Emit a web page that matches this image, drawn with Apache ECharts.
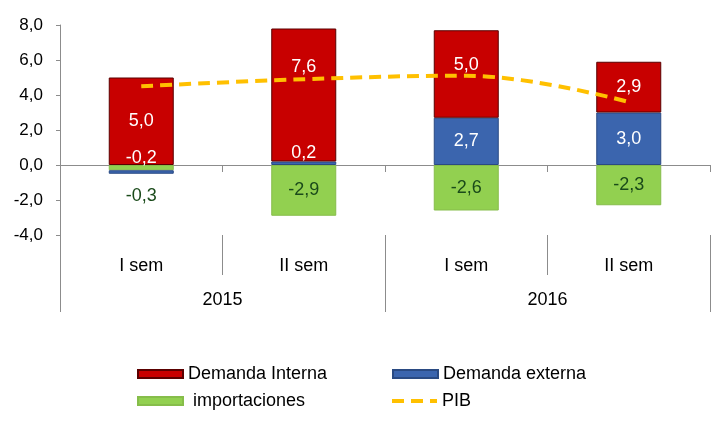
<!DOCTYPE html>
<html>
<head>
<meta charset="utf-8">
<script src="https://cdn.jsdelivr.net/npm/echarts@6/dist/echarts.min.js"></script>
<style>
  html, body { margin: 0; padding: 0; background: #fff; }
  #chart { width: 714px; height: 424px; }
</style>
</head>
<body>
<div id="chart"></div>
<script>
// datos
var semestres = ['I sem', 'II sem', 'I sem', 'II sem']
var anios = ['2015', '2016']
var demandaInterna = [5.0, 7.6, 5.0, 2.9]
var demandaExterna = [-0.2, 0.2, 2.7, 3.0]
var importaciones = [-0.3, -2.9, -2.6, -2.3]
var pib = [4.5, 4.9, 5.1, 3.6]
var yTicks = { min: -4, max: 8, step: 2 }

var font = 'Liberation Sans, Arial, sans-serif'
var gris = '#8c8c8c'

function fmt(v) {
  return Number(v).toFixed(1).replace('.', ',')
}

// desplazamiento vertical de las etiquetas (como en el original)
var dyInterna = [0, -28, -9, 0]
var dyExterna = [-14, -10, 0, 0]
var dyImport = [28, 0, 0, 0]

function items(arr, dy) {
  return arr.map(function (v, i) {
    return { value: v, label: { offset: [0, dy[i]] } }
  })
}

// una leyenda por elemento para fijar la posicion
function leyenda(name, left, top, icon, fmtName) {
  return {
    left: left,
    top: top,
    padding: 0,
    itemWidth: 45,
    itemHeight: icon === 'rect' ? 8 : 4,
    icon: icon,
    formatter: fmtName || '{name}',
    textStyle: { fontFamily: font, fontSize: 18, color: '#000' },
    data: [name]
  }
}

var chart = echarts.init(document.getElementById('chart'))

chart.setOption({
  animation: false,
  grid: { left: 60, right: 4, top: 25, bottom: 189 },
  legend: [
    leyenda('Demanda Interna', 137, 365, 'rect'),
    leyenda('Demanda externa', 392, 365, 'rect'),
    leyenda('importaciones', 137, 392, 'rect', ' {name}'),
    leyenda('PIB', 392, 392, 'path://M0,0h12v4h-12z M19,0h12v4h-12z M38,0h7v4h-7z')
  ],
  xAxis: [{
    type: 'category',
    data: semestres,
    position: 'bottom',
    axisLine: { onZero: true, lineStyle: { color: gris, width: 1 } },
    axisTick: { show: true, alignWithLabel: false, length: 7, lineStyle: { color: gris } },
    axisLabel: { show: false }
  }, {
    type: 'category',
    data: semestres,
    position: 'bottom',
    offset: 0,
    axisLine: { show: false, onZero: false },
    axisTick: { show: true, length: 40, lineStyle: { color: gris } },
    axisLabel: { margin: 22, fontFamily: font, fontSize: 18, color: '#000' }
  }, {
    type: 'category',
    data: anios,
    position: 'bottom',
    offset: 0,
    axisLine: { show: false, onZero: false },
    axisTick: { show: true, length: 77, lineStyle: { color: gris } },
    axisLabel: { margin: 56, fontFamily: font, fontSize: 18, color: '#000' }
  }],
  yAxis: {
    type: 'value',
    min: yTicks.min,
    max: yTicks.max,
    interval: yTicks.step,
    axisLine: { show: true, lineStyle: { color: gris } },
    axisTick: { show: true, length: 4, lineStyle: { color: gris } },
    splitLine: { show: false },
    axisLabel: {
      margin: 17,
      fontFamily: font,
      fontSize: 17,
      color: '#000',
      formatter: fmt
    }
  },
  series: [{
    name: 'importaciones',
    type: 'bar',
    stack: 'total',
    barWidth: 65,
    itemStyle: { color: '#92D050', borderColor: '#86bd4a', borderWidth: 1 },
    label: {
      show: true,
      position: 'inside',
      formatter: function (p) { return fmt(p.value) },
      fontFamily: font,
      fontSize: 18,
      color: '#1a4a1a'
    },
    data: items(importaciones, dyImport)
  }, {
    name: 'Demanda externa',
    type: 'bar',
    stack: 'total',
    barWidth: 65,
    itemStyle: { color: '#3B65AE', borderColor: '#2a4a82', borderWidth: 1 },
    label: {
      show: true,
      position: 'inside',
      formatter: function (p) { return fmt(p.value) },
      fontFamily: font,
      fontSize: 18,
      color: '#fff'
    },
    data: items(demandaExterna, dyExterna)
  }, {
    name: 'Demanda Interna',
    type: 'bar',
    stack: 'total',
    barWidth: 65,
    itemStyle: { color: '#C80000', borderColor: '#5a0000', borderWidth: 1 },
    label: {
      show: true,
      position: 'inside',
      formatter: function (p) { return fmt(p.value) },
      fontFamily: font,
      fontSize: 18,
      color: '#fff'
    },
    data: items(demandaInterna, dyInterna)
  }, {
    name: 'PIB',
    type: 'line',
    smooth: 0.4,
    symbol: 'none',
    z: 5,
    itemStyle: { color: '#FFC000' },
    lineStyle: { color: '#FFC000', width: 4, type: [12, 7], cap: 'butt' },
    data: pib
  }]
})
</script>
</body>
</html>
